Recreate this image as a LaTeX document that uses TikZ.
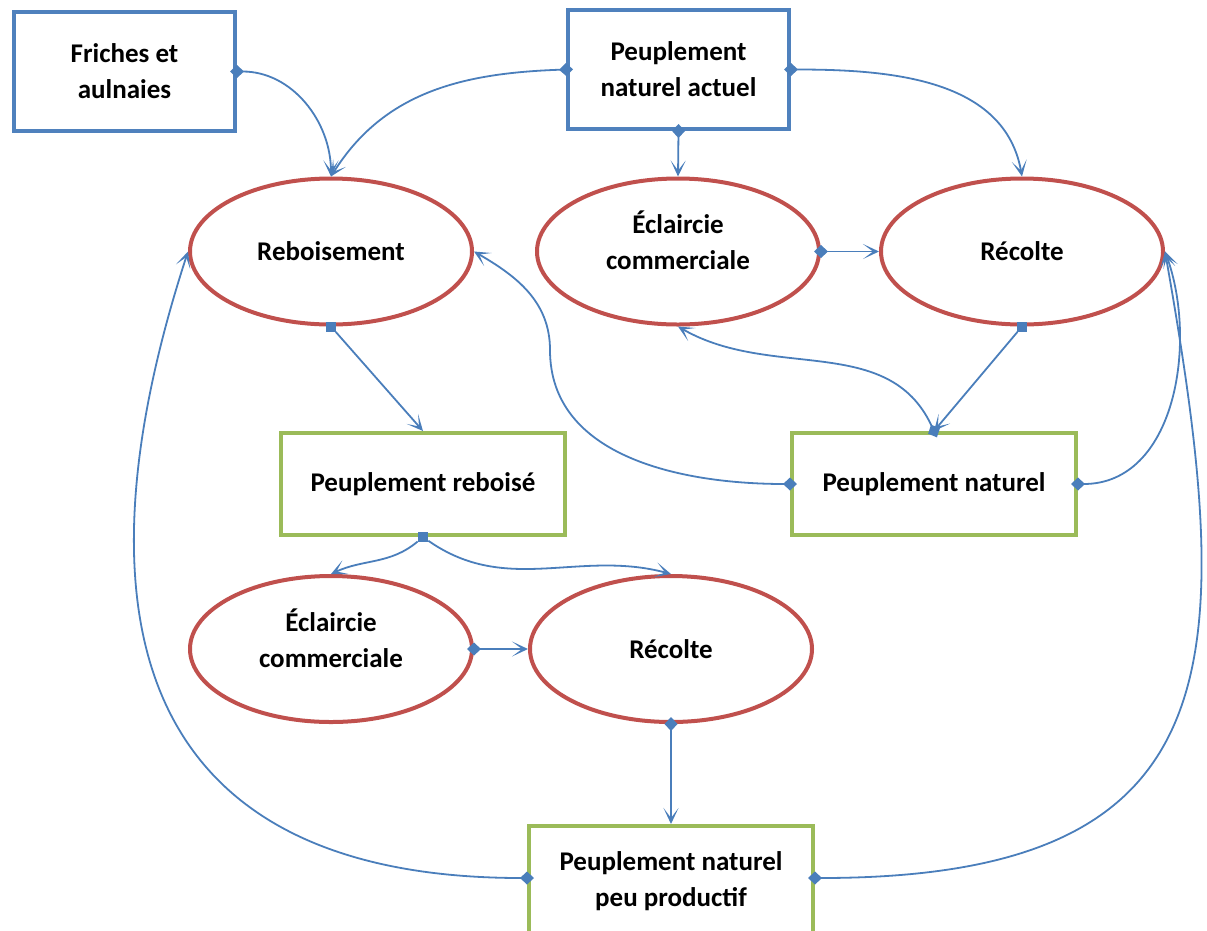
\documentclass[tikz,border=0pt]{standalone}
\usepackage{fontspec}
\setmainfont{Carlito}
\usetikzlibrary{shapes.geometric,arrows.meta}

\definecolor{boxblue}{RGB}{79,129,189}
\definecolor{boxgreen}{RGB}{155,187,89}
\definecolor{ellred}{RGB}{192,80,77}
\definecolor{linkblue}{RGB}{74,126,187}

\tikzset{every picture/.style={line width=0.75pt}}
\tikzset{
  bluebox/.style={draw=boxblue, line width=4pt, minimum width=221pt, minimum height=119pt, align=center, font=\fontsize{27}{36}\selectfont\bfseries},
  greenbox/.style={draw=boxgreen, line width=4pt, minimum width=284pt, minimum height=102pt, align=center, font=\fontsize{27}{36}\selectfont\bfseries},
  redell/.style={ellipse, draw=ellred, line width=4pt, minimum width=282pt, minimum height=146pt, align=center, font=\fontsize{27}{36}\selectfont\bfseries},
  twoline/.style={text depth=22pt},
  sqmark/.style={fill=linkblue, minimum size=10pt, inner sep=0pt},
  link/.style={draw=linkblue, line width=1.8pt, -{Stealth[length=16pt, width=15pt, inset=10pt]}},
  fromdia/.style={{Diamond[length=14pt, width=13pt]}-{Stealth[length=16pt, width=15pt, inset=10pt]}, shorten <=-7pt}
}

\begin{document}
\begin{tikzpicture}[x=1pt,y=-1pt]
\useasboundingbox (0,0) rectangle (1207,930);

%Shape: Rectangle [blue]
\node[bluebox] (fr) at (124.5,71.5) {Friches et\\aulnaies};
\node[bluebox] (pna) at (678.5,69.5) {Peuplement\\naturel actuel};
%Shape: Ellipse [red]
\node[redell] (reb) at (331,251.5) {Reboisement};
\node[redell,twoline] (ecl1) at (678,251.5) {Éclaircie\\commerciale};
\node[redell] (rec1) at (1022,251.5) {Récolte};
%Shape: Rectangle [green]
\node[greenbox] (prb) at (423,484) {Peuplement reboisé};
\node[greenbox] (pn) at (934,484) {Peuplement naturel};
%Shape: Ellipse [red]
\node[redell,twoline] (ecl2) at (331,649) {Éclaircie\\commerciale};
\node[redell] (rec2) at (671,649) {Récolte};
%Shape: Rectangle [green]
\node[greenbox, minimum height=110pt] (pnpp) at (671,881) {Peuplement naturel\\peu productif};

%Square markers
\node[sqmark] (sq1) at (reb.south) {};
\node[sqmark] (sq2) at (prb.south) {};
\node[sqmark] (sq3) at (rec1.south) {};

\coordinate (bend) at (550,350);

%Connectors
\draw[link,fromdia] (fr.east) to[out=0,in=90] (reb.north);
\draw[link,fromdia] (pna.west) to[out=182,in=58] (reb.north);
\draw[link,fromdia] (pna.south) -- (ecl1.north);
\draw[link,fromdia] (pna.east) to[out=0,in=100] (rec1.north);
\draw[link,fromdia] (ecl1.east) -- (rec1.west);
\draw[link] (sq1) -- (prb.north);
\draw[link] (sq3) -- (pn.north);
\draw[link,fromdia] (pn.north) to[out=115,in=-30] (ecl1.south);
\draw[link,fromdia] (pn.west) to[out=180,in=-90] (bend) to[out=90,in=-30] (reb.east);
\draw[link,fromdia] (pn.east) to[out=0,in=-70] (rec1.east);
\draw[link] (sq2) to[out=-140,in=25] (ecl2.north);
\draw[link] (sq2) to[out=-35,in=165] (rec2.north);
\draw[link,fromdia] (ecl2.east) -- (rec2.west);
\draw[link,fromdia] (rec2.south) -- (pnpp.north);
\draw[link,fromdia] (pnpp.west |- 0,878) to[out=180,in=-108,looseness=1.4] (reb.west);
\draw[link,fromdia] (pnpp.east |- 0,878) to[out=0,in=-80,looseness=1.5] (rec1.east);

\end{tikzpicture}
\end{document}
